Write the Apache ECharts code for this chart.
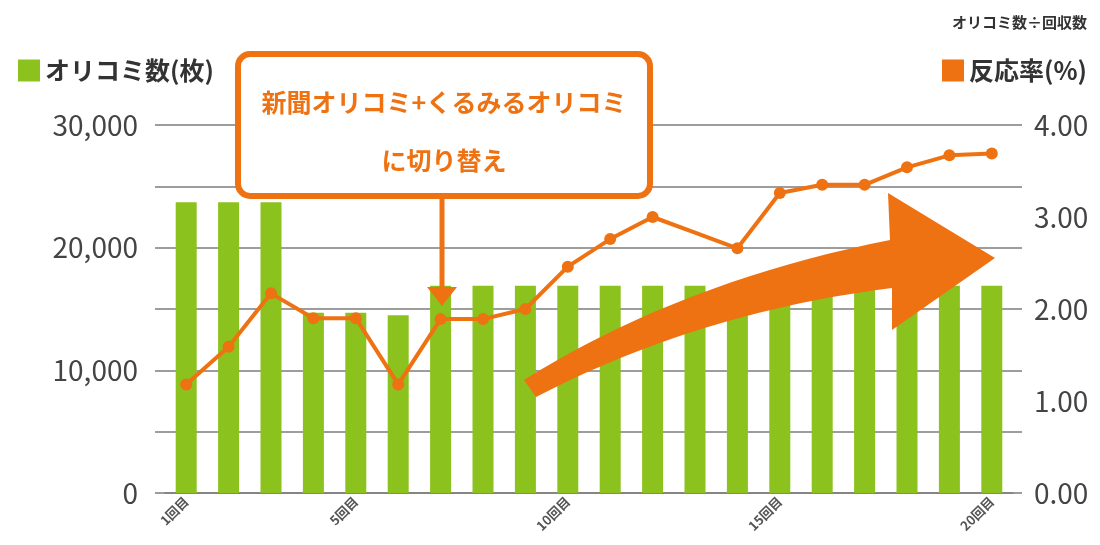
<!DOCTYPE html>
<html lang="ja">
<head>
<meta charset="UTF-8">
<title>オリコミ数と反応率</title>
<script src="https://cdn.jsdelivr.net/npm/echarts@6/dist/echarts.min.js"></script>
<style>
  html, body { margin: 0; padding: 0; background: #fff; }
  #chart { width: 1100px; height: 545px; }
</style>
</head>
<body>
<div id="chart"></div>
<script>
// データ
const rounds = ['1回目', '2回目', '3回目', '4回目', '5回目', '6回目', '7回目', '8回目', '9回目', '10回目',
  '11回目', '12回目', '13回目', '14回目', '15回目', '16回目', '17回目', '18回目', '19回目', '20回目'];
const oricomiCount = [23700, 23700, 23700, 14700, 14700, 14500, 16900, 16900, 16900, 16900,
  16900, 16900, 16900, 16900, 16900, 16900, 16900, 16900, 16900, 16900];
const responseRate = [1.18, 1.59, 2.17, 1.9, 1.9, 1.18, 1.89, 1.89, 2.0, 2.46,
  2.76, 3.0, 2.83, 2.66, 3.26, 3.35, 3.35, 3.54, 3.67, 3.69];
const shownLabels = [0, 4, 9, 14, 19];
const hiddenMarkers = [12];

const GREEN = '#8cc21e';
const ORANGE = '#ee7212';
const GRID_COLOR = '#7d7d7d';
const FONT = '"Noto Sans CJK JP", "Noto Sans", sans-serif';

const chart = echarts.init(document.getElementById('chart'));

// 右上の大きな矢印（装飾）
function bez(p0, c, p2, t) {
  const u = 1 - t;
  return [u * u * p0[0] + 2 * u * t * c[0] + t * t * p2[0],
          u * u * p0[1] + 2 * u * t * c[1] + t * t * p2[1]];
}
const arrowPts = [];
for (let i = 0; i <= 20; i++) arrowPts.push(bez([524, 380], [680, 282], [890, 240], i / 20));
arrowPts.push([888, 193], [995, 258], [892, 330]);
for (let i = 20; i >= 0; i--) arrowPts.push(bez([536, 397], [700, 312], [892, 288], i / 20));

const option = {
  animation: false,
  textStyle: { fontFamily: FONT },
  title: {
    text: 'オリコミ数÷回収数',
    right: 8,
    top: 10,
    textStyle: { fontSize: 15, fontWeight: 'bold', color: '#333', fontFamily: FONT }
  },
  legend: [
    {
      data: ['オリコミ数(枚)'],
      left: 13, top: 53,
      icon: 'rect', itemWidth: 22, itemHeight: 22,
      textStyle: { fontSize: 25, fontWeight: 'bold', color: '#333', fontFamily: FONT }
    },
    {
      data: ['反応率(%)'],
      right: 8, top: 53,
      icon: 'rect', itemWidth: 22, itemHeight: 22,
      textStyle: { fontSize: 25, fontWeight: 'bold', color: '#333', fontFamily: FONT }
    }
  ],
  grid: { left: 165, right: 87, top: 125, bottom: 52 },
  xAxis: {
    type: 'category',
    data: rounds,
    axisTick: { show: false },
    axisLine: { lineStyle: { color: GRID_COLOR, width: 1.5 } },
    axisLabel: {
      interval: (idx) => shownLabels.includes(idx),
      rotate: 45,
      margin: 6,
      fontSize: 13,
      fontWeight: 'bold',
      color: '#555',
      fontFamily: FONT
    }
  },
  yAxis: [
    {
      type: 'value',
      min: 0, max: 30000, interval: 5000,
      axisLine: { show: false },
      axisTick: { show: true, length: 10, lineStyle: { color: GRID_COLOR, width: 1.5 } },
      splitLine: { lineStyle: { color: GRID_COLOR, width: 1.5 } },
      axisLabel: {
        formatter: (v) => (v % 10000 === 0 ? v.toLocaleString('en-US') : ''),
        fontSize: 28, color: '#444', margin: 27, fontFamily: FONT
      }
    },
    {
      type: 'value',
      position: 'right',
      min: 0, max: 4, interval: 1,
      axisLine: { show: false },
      axisTick: { show: false },
      splitLine: { show: false },
      axisLabel: {
        formatter: (v) => v.toFixed(2),
        fontSize: 28, color: '#444', margin: 21, fontFamily: FONT
      }
    },
    {
      type: 'value',
      position: 'right',
      min: 0, max: 30000, interval: 5000,
      axisLine: { show: false },
      axisTick: { show: true, length: 9, lineStyle: { color: GRID_COLOR, width: 1.5 } },
      splitLine: { show: false },
      axisLabel: { show: false }
    }
  ],
  series: [
    {
      name: 'オリコミ数(枚)',
      type: 'bar',
      data: oricomiCount,
      barWidth: 21,
      itemStyle: { color: GREEN },
      z: 2
    },
    {
      name: '反応率(%)',
      type: 'line',
      yAxisIndex: 1,
      data: responseRate.map((v, i) => hiddenMarkers.includes(i) ? { value: v, symbol: 'none' } : v),
      symbol: 'circle',
      symbolSize: 12,
      lineStyle: { color: ORANGE, width: 4 },
      itemStyle: { color: ORANGE },
      z: 3
    }
  ],
  graphic: [
    {
      type: 'polygon',
      z: 50,
      shape: { points: arrowPts },
      style: { fill: ORANGE }
    },
    {
      type: 'line',
      z: 60,
      shape: { x1: 442, y1: 197, x2: 442, y2: 292 },
      style: { stroke: ORANGE, lineWidth: 5 }
    },
    {
      type: 'polygon',
      z: 60,
      shape: { points: [[427, 287], [457, 287], [442, 306]] },
      style: { fill: ORANGE }
    },
    {
      type: 'rect',
      z: 60,
      shape: { x: 238, y: 54, width: 412, height: 142, r: 12 },
      style: { fill: '#fff', stroke: ORANGE, lineWidth: 6 }
    },
    {
      type: 'text',
      z: 61,
      x: 444, y: 102,
      style: {
        text: '新聞オリコミ+くるみるオリコミ',
        fill: ORANGE, font: 'bold 25px ' + FONT,
        align: 'center', verticalAlign: 'middle'
      }
    },
    {
      type: 'text',
      z: 61,
      x: 444, y: 160,
      style: {
        text: 'に切り替え',
        fill: ORANGE, font: 'bold 25px ' + FONT,
        align: 'center', verticalAlign: 'middle'
      }
    }
  ]
};

chart.setOption(option);
</script>
</body>
</html>
